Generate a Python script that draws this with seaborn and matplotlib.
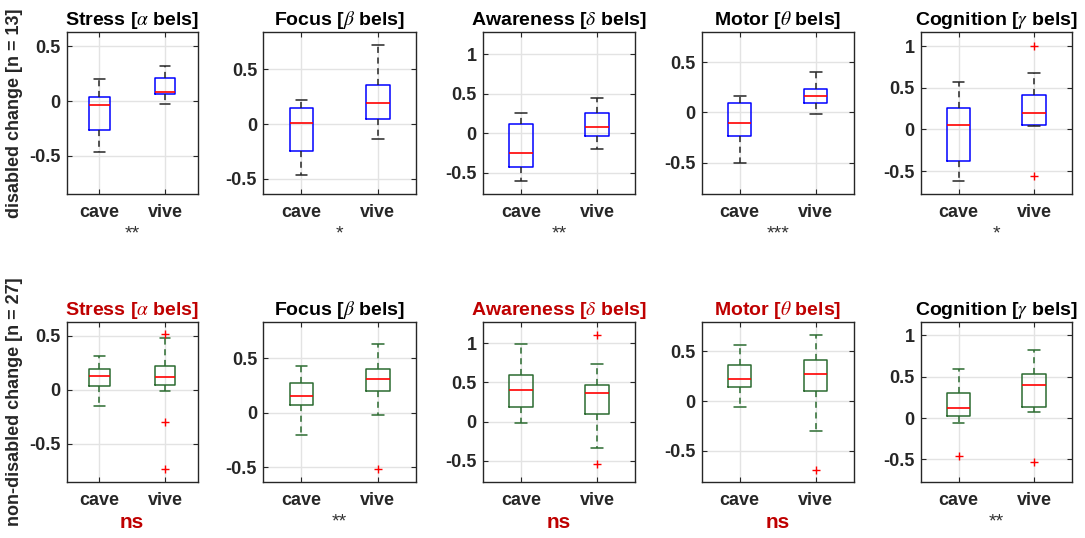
import matplotlib
matplotlib.use("Agg")
import matplotlib.pyplot as plt
import seaborn as sns

# ---- data -------------------------------------------------------------
measures = ["Stress", "Focus", "Awareness", "Motor", "Cognition"]
bands = [r"\alpha", r"\beta", r"\delta", r"\theta", r"\gamma"]
conditions = ["cave", "vive"]

# box summaries per measure: [lower whisker, Q1, median, Q3, upper whisker]
disabled_cave = [
    [-0.466, -0.270, -0.037, 0.037, 0.198],
    [-0.462, -0.246, 0.006, 0.149, 0.216],
    [-0.606, -0.429, -0.257, 0.109, 0.260],
    [-0.505, -0.236, -0.107, 0.090, 0.162],
    [-0.618, -0.379, 0.048, 0.256, 0.568],
]
disabled_vive = [
    [-0.024, 0.061, 0.082, 0.208, 0.320],
    [-0.134, 0.046, 0.194, 0.353, 0.718],
    [-0.198, -0.038, 0.071, 0.260, 0.449],
    [-0.017, 0.096, 0.162, 0.232, 0.401],
    [0.036, 0.052, 0.200, 0.419, 0.683],
]
disabled_cave_outliers = [[], [], [], [], []]
disabled_vive_outliers = [[], [], [], [], [1.0, -0.555]]

nondisabled_cave = [
    [-0.154, 0.031, 0.125, 0.193, 0.316],
    [-0.204, 0.073, 0.155, 0.276, 0.429],
    [-0.018, 0.192, 0.409, 0.600, 0.996],
    [-0.064, 0.144, 0.224, 0.361, 0.562],
    [-0.064, 0.028, 0.117, 0.306, 0.593],
]
nondisabled_vive = [
    [-0.013, 0.042, 0.116, 0.220, 0.482],
    [-0.025, 0.203, 0.313, 0.401, 0.629],
    [-0.341, 0.102, 0.365, 0.467, 0.736],
    [-0.301, 0.097, 0.274, 0.411, 0.662],
    [0.073, 0.133, 0.403, 0.536, 0.826],
]
nondisabled_cave_outliers = [[], [], [], [], [-0.463]]
nondisabled_vive_outliers = [[0.516, -0.301, -0.731], [-0.52], [1.111, -0.541],
                             [-0.688], [-0.532]]

disabled_sig = ["**", "*", "**", "***", "*"]
nondisabled_sig = ["ns", "**", "ns", "ns", "**"]

ylims = [(-0.855, 0.63), (-0.64, 0.835), (-0.775, 1.275),
         (-0.816, 0.797), (-0.777, 1.165)]
yticks = [[-0.5, 0, 0.5], [-0.5, 0, 0.5], [-0.5, 0, 0.5, 1],
          [-0.5, 0, 0.5], [-0.5, 0, 0.5, 1]]
ytick_labels = [["-0.5", "0", "0.5"], ["-0.5", "0", "0.5"],
                ["-0.5", "0", "0.5", "1"], ["-0.5", "0", "0.5"],
                ["-0.5", "0", "0.5", "1"]]

row_labels = ["disabled change [n = 13]", "non-disabled change [n = 27]"]

# ---- style ------------------------------------------------------------
sns.set_theme(style="whitegrid")
plt.rcParams["font.family"] = ["Liberation Sans", "DejaVu Sans"]
plt.rcParams["mathtext.fontset"] = "stix"

AX_COLOR = "#262626"
RED_TXT = "#BF0000"
row_colors = ["#0000FF", "#2B6B30"]
row_whisker = ["#262626", "#2B6B30"]

W, H = 1085, 538
fig = plt.figure(figsize=(W / 100, H / 100), dpi=100)
fig.patch.set_facecolor("white")

lefts = [66.7, 263.3, 482.7, 701.7, 920.7]
rights = [197.7, 416.0, 635.0, 853.7, 1072.0]
tops = [32.3, 321.7]
bottoms = [194.3, 482.3]


def summary(vals, outliers, label):
    lo, q1, med, q3, hi = vals
    return dict(whislo=lo, q1=q1, med=med, q3=q3, whishi=hi,
                fliers=list(outliers), label=label)


rows = [
    (disabled_cave, disabled_vive, disabled_cave_outliers,
     disabled_vive_outliers, disabled_sig),
    (nondisabled_cave, nondisabled_vive, nondisabled_cave_outliers,
     nondisabled_vive_outliers, nondisabled_sig),
]

for r, (cave, vive, cave_out, vive_out, sig) in enumerate(rows):
    for c in range(5):
        x0 = lefts[c] / W
        w = (rights[c] - lefts[c]) / W
        y0 = 1 - bottoms[r] / H
        h = (bottoms[r] - tops[r]) / H
        ax = fig.add_axes([x0, y0, w, h])
        ax.set_facecolor("white")

        stats = [summary(cave[c], cave_out[c], conditions[0]),
                 summary(vive[c], vive_out[c], conditions[1])]
        ax.bxp(
            stats, positions=[1, 2], widths=0.31, showfliers=True,
            manage_ticks=False,
            boxprops=dict(color=row_colors[r], linewidth=1.1),
            whiskerprops=dict(color=row_whisker[r], linewidth=1.1,
                              linestyle=(0, (4, 3))),
            capprops=dict(color=row_whisker[r], linewidth=1.1),
            medianprops=dict(color="#FF0000", linewidth=1.2),
            flierprops=dict(marker="+", markeredgecolor="#FF0000",
                            markersize=6, markeredgewidth=1.0,
                            linestyle="none"),
        )

        ax.set_xlim(0.5, 2.5)
        ax.set_ylim(*ylims[c])
        ax.set_xticks([1, 2])
        ax.set_xticklabels(conditions, fontweight="bold", fontsize=13,
                           color=AX_COLOR)
        ax.set_yticks(yticks[c])
        ax.set_yticklabels(ytick_labels[c], fontweight="bold", fontsize=13,
                           color=AX_COLOR)
        ax.tick_params(axis="both", direction="in", length=3.5, width=0.8,
                       color=AX_COLOR, left=True, right=True, bottom=True,
                       top=True)
        ax.tick_params(axis="y", pad=4.5)
        ax.tick_params(axis="x", pad=7)
        ax.grid(True, color="#E3E3E3", linewidth=1.0)
        ax.set_axisbelow(True)
        for sp in ax.spines.values():
            sp.set_visible(True)
            sp.set_color(AX_COLOR)
            sp.set_linewidth(1.0)

        is_ns = sig[c] == "ns"
        ax.set_title(f"{measures[c]} [${bands[c]}$ bels]", fontsize=14,
                     fontweight="bold", color=RED_TXT if is_ns else "black",
                     pad=5)

        xc = (lefts[c] + rights[c]) / 2 / W
        if is_ns:
            fig.text(xc, 1 - (bottoms[r] + 40) / H, sig[c], ha="center",
                     va="center", fontsize=15, fontweight="bold",
                     color=RED_TXT)
        else:
            fig.text(xc, 1 - (bottoms[r] + 40) / H, sig[c], ha="center",
                     va="center", fontsize=14, color="#333333")

    yc = 1 - (tops[r] + bottoms[r]) / 2 / H
    fig.text(15 / W, yc, row_labels[r], rotation=90, ha="center",
             va="center", fontsize=13, fontweight="bold", color=AX_COLOR)

fig.savefig("out.png", dpi=100, facecolor="white")
